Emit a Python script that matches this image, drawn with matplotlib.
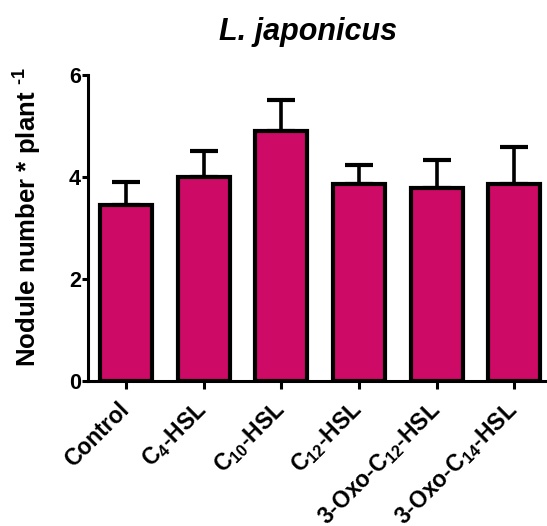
import matplotlib
matplotlib.use('Agg')
import matplotlib.pyplot as plt
import numpy as np

plt.rcParams['font.family'] = ['Liberation Sans', 'DejaVu Sans']
plt.rcParams['font.weight'] = 'bold'
plt.rcParams['mathtext.fontset'] = 'custom'
plt.rcParams['mathtext.rm'] = 'Liberation Sans:bold'
plt.rcParams['mathtext.bf'] = 'Liberation Sans:bold'
plt.rcParams['mathtext.it'] = 'Liberation Sans:bold:italic'

categorias = ['Control', r'C$_{4}$-HSL', r'C$_{10}$-HSL', r'C$_{12}$-HSL',
              r'3-Oxo-C$_{12}$-HSL', r'3-Oxo-C$_{14}$-HSL']
medias = [3.45, 4.0, 4.91, 3.86, 3.78, 3.86]
erros = [0.46, 0.52, 0.60, 0.37, 0.56, 0.74]
yticks = [0, 2, 4, 6]

cor = '#CD0A66'

fig = plt.figure(figsize=(5.47, 5.26), dpi=100)
ax = fig.add_axes([0.161, 0.2757, 0.839, 0.5813])

x = np.arange(len(categorias))
ax.errorbar(x, medias, yerr=[np.zeros(len(erros)), erros], fmt='none',
            ecolor='black', elinewidth=2.6, capsize=10, capthick=3, zorder=1)
ax.bar(x, medias, width=0.67, color=cor, edgecolor='black', linewidth=3, zorder=2)

ax.set_xlim(-0.49, 5.42)
ax.set_ylim(0, 6)
ax.set_yticks(yticks)
ax.set_yticklabels([str(v) for v in yticks], fontsize=15.5, fontweight='bold')
ax.set_xticks(x)
ax.set_xticklabels(categorias, rotation=45, ha='right', va='center',
                   rotation_mode='anchor', fontsize=16.5, fontweight='bold')

for lado in ['top', 'right']:
    ax.spines[lado].set_visible(False)
for lado in ['left', 'bottom']:
    ax.spines[lado].set_linewidth(2.2)
ax.tick_params(axis='y', direction='out', length=4, width=2.2, pad=1)
ax.tick_params(axis='x', direction='out', length=6, width=2.2, pad=12)

fig.text(28 / 547, 1 - 217 / 526, r'Nodule number * plant $^{\text{-1}}$', fontsize=18.5,
         fontweight='bold', rotation=90, ha='center', va='center')

fig.text(0.563, 0.94, 'L. japonicus', fontsize=22, fontweight='bold', fontstyle='italic',
         ha='center', va='center')

fig.savefig('out.png', dpi=100)
